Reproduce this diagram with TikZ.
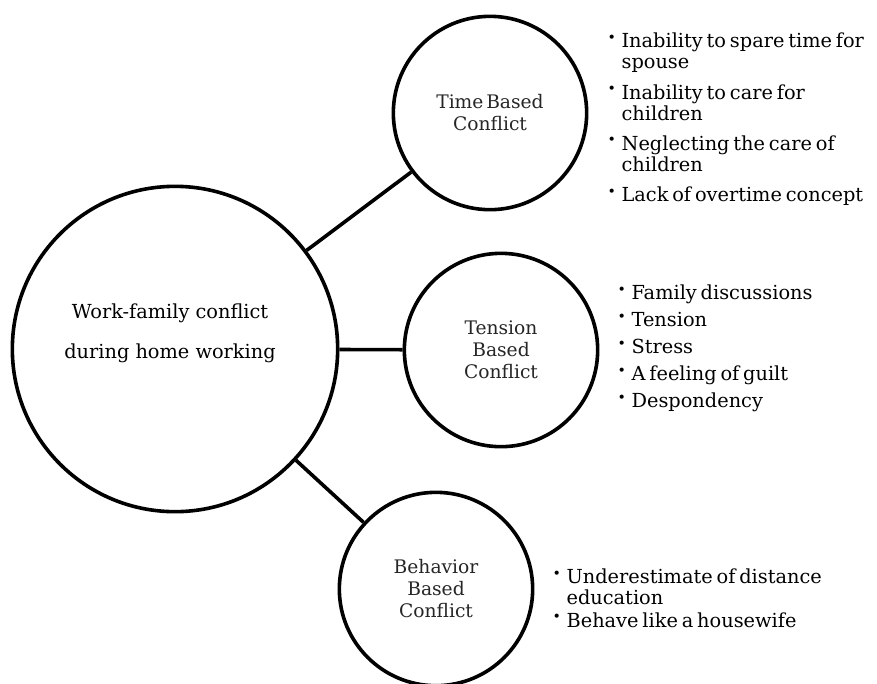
\documentclass[tikz,border=0pt]{standalone}
\usepackage{fontspec}
\setmainfont{DejaVu Serif}
\newfontfamily\cjkfont{Noto Sans CJK JP}
\newcommand\bul{\raisebox{0.2em}[0pt][0pt]{\cjkfont ・}}
\newcommand\gap{\phantom{\cjkfont ・}}

\begin{document}
\begin{tikzpicture}
        [
        x=0.75pt, y=-0.75pt,
        hub/.style={circle,draw,line width=2.7pt,fill=white,minimum size=244pt},
        topic/.style={circle,draw,line width=2.7pt,fill=white,minimum size=145pt,inner sep=0pt,
            align=center,text=black!85,font={\fontsize{14}{16.5}\selectfont\spaceskip=0.15em\relax}},
        items/.style={anchor=north west,inner sep=0pt,align=left,
            font={\fontsize{14.5}{15.75}\selectfont\spaceskip=0.2em\relax}},
        link/.style={line width=2.7pt}
        ]
    \useasboundingbox (0,0) rectangle (877,683);
    \node[hub] (work) at (175,349) {};
    \node[align=center,font=\fontsize{14.5}{30}\selectfont] (worktext) at (170,333) {Work-family conflict\\during home working};
    \node[topic] (time) at (490,113) {Time Based\\Conflict};
    \node[topic] (tension) at (501,350) {Tension\\Based\\Conflict};
    \node[topic] (behavior) at (436,589) {Behavior\\Based\\Conflict};
    \draw[link] (work) -- (time);
    \draw[link] (work) -- (tension);
    \draw[link] (work) -- (behavior);
    \node[items] (timelist) at (602,33) {\bul Inability to spare time for\\\gap spouse\\[7pt]
        \bul Inability to care for\\\gap children\\[7pt]
        \bul Neglecting the care of\\\gap children\\[7pt]
        \bul Lack of overtime concept};
    \node[items] (tensionlist) at (612,285) {\bul Family discussions\\[4.5pt]\bul Tension\\[4.5pt]
        \bul Stress\\[4.5pt]\bul A feeling of guilt\\[4.5pt]\bul Despondency};
    \node[items] (behaviorlist) at (547,569) {\bul Underestimate of distance\\\gap education\\[1pt]
        \bul Behave like a housewife};
\end{tikzpicture}
\end{document}
